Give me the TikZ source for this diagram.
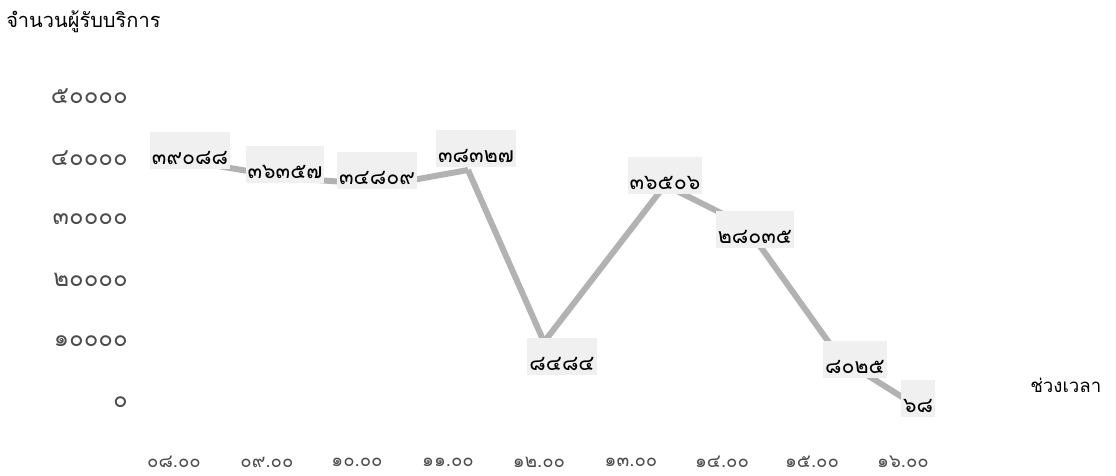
\documentclass[tikz,border=0pt]{standalone}
\usepackage{fontspec}
\newfontfamily\thaifont[Script=Thai]{Loma}
\usetikzlibrary{positioning}

\tikzset{
    axislabel/.style={font=\thaifont\fontsize{14}{14}\selectfont, text=black!70, inner sep=0pt},
    ticklabel/.style={axislabel, font=\thaifont\fontsize{18}{18}\selectfont},
    titlelabel/.style={axislabel, font=\thaifont\fontsize{15}{15}\selectfont, text=black},
    datalabel/.style={font=\thaifont\fontsize{16}{16}\selectfont, fill=gray!12, inner xsep=1.5pt, inner ysep=1pt,
        text height=2.3em, text depth=.3em, anchor=base},
    dataline/.style={line width=4.5pt, draw=gray!60}
}

\begin{document}
\begin{tikzpicture}[x=0.75pt, y=-0.75pt]
\useasboundingbox (0,0) rectangle (1116,475);
\node[titlelabel, anchor=west] (ytitle) at (6,22) {จำนวนผู้รับบริการ};
\node[axislabel, text=black, anchor=west] (xtitle) at (1030,385) {ช่วงเวลา};
    \foreach \v/\y [count=\i] in {๕๐๐๐๐/96,๔๐๐๐๐/158,๓๐๐๐๐/219,๒๐๐๐๐/280,๑๐๐๐๐/341,๐/402}{
        \node[ticklabel, anchor=east] (ytick\i) at (128,\y) {\v};}
    \foreach \t/\x [count=\i] in {๐๘.๐๐/174,๐๙.๐๐/267,๑๐.๐๐/357,๑๑.๐๐/448,๑๒.๐๐/539,
        ๑๓.๐๐/631,๑๔.๐๐/722,๑๕.๐๐/812,๑๖.๐๐/903}{
        \node[axislabel] (xtick\i) at (\x,462) {\t};}
    \foreach \x/\y [count=\i] in {200/163,290/178,385/185,468/170,544/342,665/185,745/225,840/358,910/402}{
        \coordinate (p\i) at (\x,\y);}
    \foreach \i [count=\j from 2] in {1,...,8}{
        \draw[dataline] (p\i) -- (p\j);}
    \foreach \v/\x/\y [count=\i] in {๓๙๐๘๘/190/164,๓๖๓๕๗/285/178,๓๔๘๐๙/377/184,๓๘๓๒๗/476/162,
        ๘๔๘๔/562/370,๓๖๕๐๖/665/189,๒๘๐๓๕/755/243,๘๐๒๕/855/373,๖๘/918/412}{
        \node[datalabel, text=black] (label\i) at (\x,\y) {\v};}
\end{tikzpicture}
\end{document}
